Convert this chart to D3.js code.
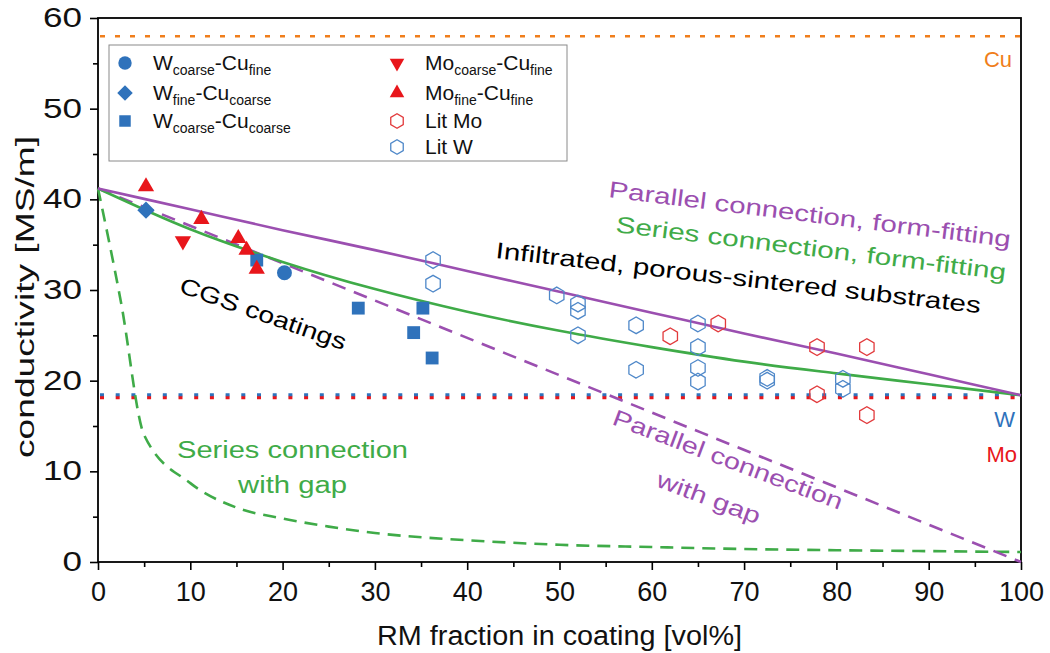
<!DOCTYPE html>
<html>
<head>
<meta charset="utf-8">
<script src="https://cdn.jsdelivr.net/npm/d3@7"></script>
<style>
  html, body { margin: 0; padding: 0; background: #fff; }
  svg { display: block; font-family: "Liberation Sans", Arial, Helvetica, sans-serif; }
</style>
</head>
<body>
<svg id="chart" width="1050" height="653"></svg>
<script>
// ---- measured samples (RM fraction in vol%, conductivity in MS/m) ----
const wCoarseCuFine   = [[20.2, 31.9]];
const wFineCuCoarse   = [[5.2, 38.8]];
const wCoarseCuCoarse = [[17.2, 33.3], [28.2, 28.0], [34.2, 25.3], [35.2, 28.0], [36.2, 22.5]];
const moCoarseCuFine  = [[9.2, 35.4]];
const moFineCuFine    = [[5.2, 41.4], [11.2, 37.8], [15.2, 35.7], [16.1, 34.4], [17.2, 32.3]];
const litMo = [[62.0, 24.9], [67.2, 26.3], [77.9, 23.7], [77.9, 18.5], [83.3, 23.7], [83.3, 16.2]];
const litW  = [[36.3, 33.3], [36.3, 30.7], [49.7, 29.4], [52.0, 28.5], [52.0, 27.7], [52.0, 25.0],
               [58.3, 26.1], [58.3, 21.2], [65.0, 26.3], [65.0, 23.7], [65.0, 21.4], [65.0, 19.9],
               [72.5, 20.3], [72.5, 20.0], [80.7, 20.2], [80.7, 19.1]];

// ---- model curves ----
const modelX          = [0, 10, 20, 30, 40, 50, 60, 70, 80, 90, 100];
const parallelFit     = [41.2, 38.9, 36.6, 34.4, 32.1, 29.8, 27.5, 25.2, 23.0, 20.7, 18.4];
const seriesFit       = [41.2, 36.7, 33.1, 30.1, 27.6, 25.5, 23.7, 22.1, 20.8, 19.6, 18.4];
const parallelGapX    = [0, 50, 100];
const parallelGap     = [41.2, 20.6, 0];
const seriesGapX      = [0, 2.5, 5, 10, 15, 20, 25, 30, 40, 50, 60, 70, 80, 90, 100];
const seriesGap       = [41.2, 28.6, 14.0, 8.7, 6.0, 4.8, 3.9, 3.2, 2.4, 1.9, 1.65, 1.43, 1.3, 1.2, 1.1];

// ---- bulk reference conductivities ----
const cuBulk = 58.0;
const wBulk  = 18.45;
const moBulk = 18.15;

// ---- axis ticks ----
const xMajor = d3.range(0, 101, 10);
const xMinor = d3.range(5, 100, 10);
const yMajor = d3.range(0, 61, 10);
const yMinor = d3.range(5, 60, 10);

const C = {
  blue: "#2f72bb", litW: "#4f88c9", red: "#e8161b", litMo: "#e23a3c",
  purple: "#9b4fb0", green: "#3fab48", orange: "#f07e1b"
};

const svg = d3.select("#chart");
const x = d3.scaleLinear().domain([0, 100]).range([98, 1021]);
const y = d3.scaleLinear().domain([0, 60]).range([562, 18]);

// axes
const gx = svg.append("g").attr("transform", `translate(0,${y(0)})`);
gx.call(d3.axisBottom(x).tickValues(xMajor).tickSize(8).tickPadding(12).tickFormat(d3.format("d")));
gx.append("g").call(d3.axisBottom(x).tickValues(xMinor).tickSize(5).tickFormat(""));
const gy = svg.append("g").attr("transform", `translate(${x(0)},0)`);
gy.call(d3.axisLeft(y).tickValues(yMajor).tickSize(8).tickPadding(8).tickFormat(d3.format("d")));
gy.append("g").call(d3.axisLeft(y).tickValues(yMinor).tickSize(5).tickFormat(""));
svg.selectAll(".domain").remove();
svg.selectAll(".tick line").attr("stroke", "#000").attr("stroke-width", 1.6);
svg.selectAll(".tick text").attr("fill", "#111").style("font-size", "27px")
  .style("font-family", '"Liberation Sans", Arial, sans-serif');
gy.selectAll(".tick text")
  .attr("textLength", d => String(d).length * 19.5).attr("lengthAdjust", "spacingAndGlyphs");

// plot frame
svg.append("rect")
  .attr("x", x(0)).attr("y", y(60)).attr("width", x(100) - x(0)).attr("height", y(0) - y(60))
  .attr("fill", "none").attr("stroke", "#000").attr("stroke-width", 1.8);

// axis titles
svg.append("text").attr("x", (x(0) + x(100)) / 2).attr("y", 645)
  .attr("text-anchor", "middle").style("font-size", "27px").attr("fill", "#111")
  .attr("textLength", 365).attr("lengthAdjust", "spacingAndGlyphs")
  .text("RM fraction in coating [vol%]");
svg.append("text").attr("transform", `translate(34,297) rotate(-90)`)
  .attr("text-anchor", "middle").style("font-size", "26px").attr("fill", "#111")
  .attr("textLength", 322).attr("lengthAdjust", "spacingAndGlyphs")
  .text("conductivity [MS/m]");

// horizontal bulk lines
function hline(v, color, dash, width, offset) {
  svg.append("line").attr("x1", x(0)).attr("x2", x(100)).attr("y1", y(v)).attr("y2", y(v))
    .attr("stroke", color).attr("stroke-width", width).attr("stroke-dasharray", dash)
    .attr("stroke-dashoffset", offset);
}
hline(cuBulk, C.orange, "5,10", 2.5, -2);
hline(moBulk, C.red, "4,11.7", 3.5, -2);
hline(wBulk, C.blue, "4,11.7", 3, -2);

// model curves
const line = d3.line().x(d => x(d[0])).y(d => y(d[1])).curve(d3.curveMonotoneX);
function curve(xs, ys, color, dash) {
  svg.append("path").datum(xs.map((v, i) => [v, ys[i]]))
    .attr("d", line).attr("fill", "none").attr("stroke", color).attr("stroke-width", 2.6)
    .attr("stroke-dasharray", dash || null);
}
curve(seriesGapX, seriesGap, C.green, "13,8");
curve(parallelGapX, parallelGap, C.purple, "14,9");
curve(modelX, seriesFit, C.green);
curve(modelX, parallelFit, C.purple);

// marker shapes
const hexagon = {
  draw(ctx, size) {
    const r = Math.sqrt(size / (1.5 * Math.sqrt(3)));
    for (let i = 0; i < 6; i++) {
      const a = Math.PI / 2 + i * Math.PI / 3;
      const px = r * Math.cos(a), py = r * Math.sin(a);
      if (i === 0) ctx.moveTo(px, py); else ctx.lineTo(px, py);
    }
    ctx.closePath();
  }
};
const markerDefs = {
  circle:   { type: d3.symbolCircle,   size: 175, rot: 0,   fill: C.blue, stroke: "none" },
  diamond:  { type: d3.symbolSquare,   size: 150, rot: 45,  fill: C.blue, stroke: "none" },
  square:   { type: d3.symbolSquare,   size: 165, rot: 0,   fill: C.blue, stroke: "none" },
  triDown:  { type: d3.symbolTriangle, size: 115, rot: 180, fill: C.red,  stroke: "none" },
  triUp:    { type: d3.symbolTriangle, size: 115, rot: 0,   fill: C.red,  stroke: "none" },
  hexMo:    { type: hexagon,           size: 180, rot: 0,   fill: "none", stroke: C.litMo },
  hexW:     { type: hexagon,           size: 180, rot: 0,   fill: "none", stroke: C.litW }
};
function drawMarker(g, kind, px, py, scale) {
  const m = markerDefs[kind];
  g.append("path")
    .attr("d", d3.symbol().type(m.type).size(m.size * (scale || 1))())
    .attr("transform", `translate(${px},${py}) rotate(${m.rot})`)
    .attr("fill", m.fill).attr("stroke", m.stroke).attr("stroke-width", 1.3);
}
function scatter(data, kind) {
  const g = svg.append("g");
  data.forEach(d => drawMarker(g, kind, x(d[0]), y(d[1])));
}
scatter(litW, "hexW");
scatter(litMo, "hexMo");
scatter(wCoarseCuCoarse, "square");
scatter(wCoarseCuFine, "circle");
scatter(wFineCuCoarse, "diamond");
scatter(moCoarseCuFine, "triDown");
scatter(moFineCuFine, "triUp");

// annotations
function label(txt, px, py, angle, len, color, size) {
  svg.append("text").attr("transform", `translate(${px},${py}) rotate(${angle})`)
    .attr("textLength", len).attr("lengthAdjust", "spacingAndGlyphs")
    .attr("fill", color).style("font-size", (size || 23) + "px").text(txt);
}
label("Parallel connection, form-fitting", 608, 197, 7.1, 405, C.purple);
label("Series connection, form-fitting", 615, 232, 7.0, 393, C.green);
label("Infiltrated, porous-sintered substrates", 495, 258, 6.5, 488, "#000");
label("CGS coatings", 178, 292, 19.4, 175, "#000");
label("Series connection", 177, 458, 0, 231, C.green);
label("with gap", 238, 493, 0, 109, C.green);
label("Parallel connection", 611, 424, 20.6, 244, C.purple);
label("with gap", 655, 486, 20.6, 109, C.purple);

svg.append("text").attr("x", 1012).attr("y", 67).attr("text-anchor", "end")
  .attr("fill", C.orange).style("font-size", "22px").text("Cu");
svg.append("text").attr("x", 1015).attr("y", 427).attr("text-anchor", "end")
  .attr("fill", C.blue).style("font-size", "22px").text("W");
svg.append("text").attr("x", 1017).attr("y", 462).attr("text-anchor", "end")
  .attr("fill", C.red).style("font-size", "22px").text("Mo");

// legend
const lg = svg.append("g");
lg.append("rect").attr("x", 109).attr("y", 45).attr("width", 458).attr("height", 116)
  .attr("fill", "#fff").attr("stroke", "#8a8a8a").attr("stroke-width", 1);
const legendItems = [
  { kind: "circle",  col: 0, row: 0, parts: [["W", 0], ["coarse", 1], ["-Cu", 0], ["fine", 1]] },
  { kind: "diamond", col: 0, row: 1, parts: [["W", 0], ["fine", 1], ["-Cu", 0], ["coarse", 1]] },
  { kind: "square",  col: 0, row: 2, parts: [["W", 0], ["coarse", 1], ["-Cu", 0], ["coarse", 1]] },
  { kind: "triDown", col: 1, row: 0, parts: [["Mo", 0], ["coarse", 1], ["-Cu", 0], ["fine", 1]] },
  { kind: "triUp",   col: 1, row: 1, parts: [["Mo", 0], ["fine", 1], ["-Cu", 0], ["fine", 1]] },
  { kind: "hexMo",   col: 1, row: 2, parts: [["Lit Mo", 0]] },
  { kind: "hexW",    col: 1, row: 3, parts: [["Lit W", 0]] }
];
const colX = [125, 397], textX = [153, 425], rowY = [63, 93, 121, 147];
legendItems.forEach(it => {
  const ly = rowY[it.row];
  const sc = it.kind.startsWith("hex") ? 0.75 : 0.8;
  drawMarker(lg, it.kind, colX[it.col], ly, sc);
  const t = lg.append("text").attr("x", textX[it.col]).attr("y", ly + 7)
    .attr("fill", "#111").style("font-size", "21px");
  let shifted = false;
  it.parts.forEach(([s, sub]) => {
    const ts = t.append("tspan").text(s);
    if (sub && !shifted) { ts.attr("dy", 5).style("font-size", "14px"); shifted = true; }
    else if (!sub && shifted) { ts.attr("dy", -5); shifted = false; }
    else if (sub) ts.style("font-size", "14px");
  });
});
</script>
</body>
</html>
